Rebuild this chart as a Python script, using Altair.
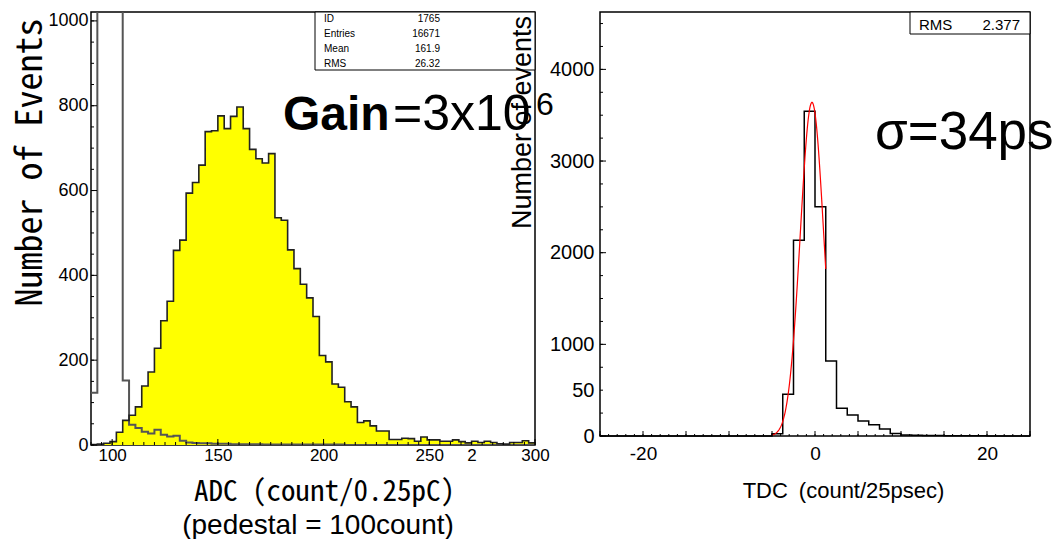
import altair as alt
import numpy as np
import pandas as pd

# ---------------- ADC spectrum: 70 bins of 3 counts between 90 and 300 ----------------
ADC_RANGE = [90, 300]
ADC_BIN = 3
adc_signal = [1, 2, 4, 8, 30, 58, 70, 90, 139, 172,
              228, 293, 339, 459, 483, 594, 619, 660, 739, 741,
              776, 746, 775, 797, 746, 697, 675, 665, 687, 536,
              530, 460, 416, 379, 347, 303, 211, 196, 144, 136,
              102, 90, 53, 57, 45, 33, 33, 13, 13, 16,
              15, 9, 19, 12, 12, 9, 9, 12, 8, 5,
              9, 6, 9, 6, 3, 2, 6, 6, 10, 5]
adc_pedestal = [123, 2600, 9800, 7400, 2900, 152, 48, 40, 31, 27,
                36, 24, 20, 22, 10, 6, 5, 4, 4, 3,
                3, 3, 2, 2, 2, 2, 2, 1, 1, 1,
                1, 1, 1, 1, 1, 1, 1, 1, 1, 1,
                0, 0, 0, 0, 0, 0, 0, 0, 0, 0,
                0, 0, 0, 0, 0, 0, 0, 0, 0, 0,
                0, 0, 0, 0, 0, 0, 0, 0, 0, 0]
adc_stat_names = ["ID", "Entries", "Mean", "RMS"]
adc_stat_values = ["1765", "16671", "161.9", "26.32"]
adc_y_ticks = [0, 200, 400, 600, 800, 1000]
adc_x_ticks = [100, 150, 200, 250, 270, 300]
adc_x_text = {270: "2"}
gain_parts = ["Gain", "=3x10", "6"]
pedestal_note = "(pedestal = 100count)"

# ---------------- TDC spectrum: 40 bins of 1.25 counts between -25 and 25 ----------------
TDC_RANGE = [-25, 25]
TDC_BIN = 1.25
tdc_counts = [0] * 16 + [25, 456, 2137, 3542, 2502, 818, 303, 230, 163, 124,
                         76, 28, 12, 8, 6, 5, 4, 4, 3, 2,
                         1, 1, 0, 0]
tdc_y_ticks = [0, 500, 1000, 2000, 3000, 4000]
tdc_y_text = {500: "50"}
tdc_x_ticks = [-20, 0, 20]
tdc_rms = ["RMS", "2.377"]
# Gaussian fit of the peak
FIT_AMP = 3640
FIT_MEAN = -0.35
SIGMA_PS = 34
PS_PER_COUNT = 25
FIT_RANGE = [-5, 1.25]
sigma_label = "\u03c3=34ps"

MONO = "'Noto Sans Mono CJK JP', 'DejaVu Sans Mono', monospace"
SANS = "'Liberation Sans', Arial, sans-serif"

W1, H1 = 444, 433
W2, H2 = 430, 424


def step_frame(lo, width, counts):
    edges = [lo + width * i for i in range(len(counts) + 1)]
    return pd.DataFrame({"x": edges, "y": list(counts) + [counts[-1]]})


def label_expr(mapping):
    expr = "datum.value < 0 ? '-' + abs(datum.value) : datum.label"
    for k, v in mapping.items():
        expr = f"datum.value == {k} ? '{v}' : ({expr})"
    return expr


def x_tick_rules(values, enc, height, length):
    return alt.Chart(pd.DataFrame({"x": values})).mark_rule(color="black", strokeWidth=1).encode(
        x=enc, y=alt.value(height), y2=alt.value(height - length))


def y_tick_rules(values, enc, length):
    return alt.Chart(pd.DataFrame({"y": values})).mark_rule(color="black", strokeWidth=1).encode(
        y=enc, x=alt.value(0), x2=alt.value(length))


def label_text(txt, x, y, size, font=SANS, align="left", baseline="alphabetic", weight="normal", **kw):
    return alt.Chart(pd.DataFrame({"t": [txt]})).mark_text(
        font=font, fontSize=size, align=align, baseline=baseline, fontWeight=weight,
        color="black", **kw).encode(text="t:N", x=alt.value(x), y=alt.value(y))


axis_common = dict(ticks=False, tickSize=0, domain=False, grid=False, labelFlush=False,
                   labelOverlap=False, format="d", labelColor="black", labelFont=SANS,
                   titleColor="black", titleFontWeight="normal")

# ---------------- left panel: ADC ----------------
x_adc = alt.X("x:Q", scale=alt.Scale(domain=ADC_RANGE, nice=False, zero=False),
              axis=alt.Axis(values=adc_x_ticks, labelExpr=label_expr(adc_x_text),
                            labelFontSize=17, labelPadding=2,
                            title="ADC (count/0.25pC)", titleFont=MONO, titleFontSize=29,
                            titleX=233, titleY=55, titleAlign="center",
                            titleBaseline="alphabetic", **axis_common))
y_adc = alt.Y("y:Q", scale=alt.Scale(domain=[0, 1021], nice=False),
              axis=alt.Axis(values=adc_y_ticks, labelFontSize=18, labelPadding=3,
                            title="Number of Events", titleFont=MONO, titleFontSize=36,
                            titleAngle=270, titleX=-78, titleY=150, titleAlign="center",
                            titleBaseline="top", **axis_common))

sig_df = step_frame(ADC_RANGE[0], ADC_BIN, adc_signal)
ped_df = step_frame(ADC_RANGE[0], ADC_BIN, adc_pedestal)

adc_fill = alt.Chart(sig_df).mark_area(interpolate="step-after", color="#ffff00").encode(x=x_adc, y=y_adc)
adc_ped = alt.Chart(ped_df).mark_line(interpolate="step-after", color="#555555", strokeWidth=2,
                                      clip=True).encode(x=x_adc, y=y_adc)
adc_line = alt.Chart(sig_df).mark_line(interpolate="step-after", color="#222222",
                                       strokeWidth=1.6).encode(x=x_adc, y=y_adc)

adc_layers = [
    adc_fill, adc_ped, adc_line,
    x_tick_rules(list(range(90, 301, 5)), x_adc, H1, 3),
    x_tick_rules(list(range(100, 301, 50)), x_adc, H1, 6),
    y_tick_rules(list(range(0, 1001, 50)), y_adc, 3),
    y_tick_rules(adc_y_ticks, y_adc, 6),
    alt.Chart(pd.DataFrame({"t": [0]})).mark_rect(fill="white", stroke="black", strokeWidth=1).encode(
        x=alt.value(224), x2=alt.value(W1), y=alt.value(0), y2=alt.value(58)),
    label_text("\n".join(adc_stat_names), 233, 1.7, 10, baseline="top", lineBreak="\n", lineHeight=15),
    label_text("\n".join(adc_stat_values), 349, 1.7, 10, align="right", baseline="top",
               lineBreak="\n", lineHeight=15),
    label_text(gain_parts[0], 192, 118, 48, weight="bold"),
    label_text(gain_parts[1], 302, 118, 50),
    label_text(gain_parts[2], W1 + 1, 103, 32),
    label_text(pedestal_note, 227, 522, 28, align="center"),
]
left = alt.layer(*adc_layers).properties(width=W1, height=H1)

# ---------------- right panel: TDC ----------------
x_tdc = alt.X("x:Q", scale=alt.Scale(domain=TDC_RANGE, nice=False, zero=False),
              axis=alt.Axis(values=tdc_x_ticks, labelExpr=label_expr({}),
                            labelFontSize=19, labelPadding=8,
                            title="TDC\u2002(count/25psec)", titleFont=SANS, titleFontSize=22,
                            titleX=243, titleY=61, titleAlign="center",
                            titleBaseline="alphabetic", **axis_common))
y_tdc = alt.Y("y:Q", scale=alt.Scale(domain=[0, 4626], nice=False),
              axis=alt.Axis(values=tdc_y_ticks, labelExpr=label_expr(tdc_y_text),
                            labelFontSize=20, labelPadding=6,
                            title="Number of events", titleFont=SANS, titleFontSize=27,
                            titleAngle=270, titleX=-91, titleY=110, titleAlign="center",
                            titleBaseline="top", **axis_common))

tdc_df = step_frame(TDC_RANGE[0], TDC_BIN, tdc_counts)
fit_sigma = SIGMA_PS / PS_PER_COUNT
fit_x = np.linspace(FIT_RANGE[0], FIT_RANGE[1], 120)
fit_df = pd.DataFrame({"x": fit_x,
                       "y": FIT_AMP * np.exp(-0.5 * ((fit_x - FIT_MEAN) / fit_sigma) ** 2)})

tdc_line = alt.Chart(tdc_df).mark_line(interpolate="step-after", color="black",
                                       strokeWidth=1.5).encode(x=x_tdc, y=y_tdc)
tdc_fit = alt.Chart(fit_df).mark_line(color="#ff0000", strokeWidth=1.2).encode(x=x_tdc, y=y_tdc)

tdc_layers = [
    tdc_line, tdc_fit,
    x_tick_rules(list(range(-25, 26, 1)), x_tdc, H2, 2),
    x_tick_rules(list(range(-25, 26, 5)), x_tdc, H2, 5),
    y_tick_rules(list(range(0, 4501, 250)), y_tdc, 3),
    y_tick_rules([0, 1000, 2000, 3000, 4000], y_tdc, 6),
    alt.Chart(pd.DataFrame({"t": [0]})).mark_rect(fill="white", stroke="black", strokeWidth=1).encode(
        x=alt.value(310), x2=alt.value(W2), y=alt.value(0), y2=alt.value(22)),
    label_text(tdc_rms[0], 319, 13, 15, baseline="middle"),
    label_text(tdc_rms[1], 420, 13, 15, align="right", baseline="middle"),
    label_text(sigma_label, 275, 136.5, 53),
]
right = alt.layer(*tdc_layers).properties(width=W2, height=H2)

chart = alt.hconcat(left, right, spacing=65, bounds="flush").properties(
    padding={"left": 11, "top": 10, "right": 0, "bottom": 0},
    background="white",
).configure_view(stroke="black", strokeWidth=1.5)

chart.save("out.html", embed_options={"renderer": "svg", "actions": False})
